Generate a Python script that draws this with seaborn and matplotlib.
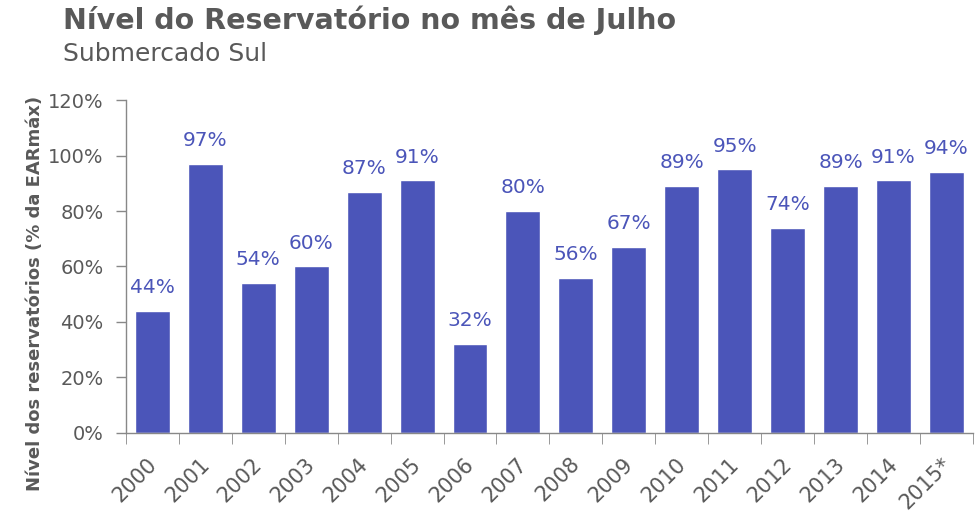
import matplotlib.pyplot as plt
import matplotlib.transforms as mtransforms
import seaborn as sns
import pandas as pd

# data
anos = ['2000', '2001', '2002', '2003', '2004', '2005', '2006', '2007',
        '2008', '2009', '2010', '2011', '2012', '2013', '2014', '2015*']
nivel = [44, 97, 54, 60, 87, 91, 32, 80, 56, 67, 89, 95, 74, 89, 91, 94]
yticks = [0, 20, 40, 60, 80, 100, 120]

df = pd.DataFrame({'ano': anos, 'nivel': nivel})

sns.set_style('white')
plt.rcParams['font.family'] = ['DejaVu Sans']

azul = '#4B55B9'
cinza = '#595959'

fig = plt.figure(figsize=(9.75, 5.21), dpi=100)
ax = fig.add_axes([0.129, 0.169, 0.869, 0.639])

sns.barplot(data=df, x='ano', y='nivel', color=azul, width=0.66,
            saturation=1, ax=ax)

for i, v in enumerate(nivel):
    ax.text(i, v + 5, f'{v}%', ha='center', va='bottom', fontsize=14.5, color=azul)

ax.set_ylim(0, 120)
ax.set_xlim(-0.5, len(anos) - 0.5)
ax.set_yticks(yticks)
ax.set_yticklabels([f'{t}%' for t in yticks], fontsize=14, color=cinza)
ax.set_xticks(range(len(anos)))
ax.set_xticklabels(anos, rotation=45, ha='right', rotation_mode='anchor',
                   fontsize=15, color=cinza)
ax.tick_params(axis='x', length=0, pad=15)
ax.tick_params(axis='y', length=7, color='#888888', width=1, left=True, pad=9)
# shift x labels a bit to the left
shift = mtransforms.ScaledTranslation(-6 / 100, 0, fig.dpi_scale_trans)
for lbl in ax.get_xticklabels():
    lbl.set_transform(lbl.get_transform() + shift)
# tick marks between categories
ax.set_xticks([i - 0.5 for i in range(len(anos) + 1)], minor=True)
ax.tick_params(axis='x', which='minor', length=8, color='#888888', bottom=True)

ax.set_xlabel('')
ax.set_ylabel('Nível dos reservatórios (% da EARmáx)', fontsize=13,
              fontweight='bold', color=cinza)
ax.yaxis.set_label_coords(-0.096, 0.42)

for s in ['top', 'right']:
    ax.spines[s].set_visible(False)
for s in ['left', 'bottom']:
    ax.spines[s].set_color('#888888')
    ax.spines[s].set_linewidth(1)

fig.text(0.065, 0.99, 'Nível do Reservatório no mês de Julho', fontsize=20.5,
         fontweight='bold', color=cinza, va='top')
fig.text(0.065, 0.92, 'Submercado Sul', fontsize=18, color=cinza, va='top')

fig.savefig('out.png', dpi=100)
